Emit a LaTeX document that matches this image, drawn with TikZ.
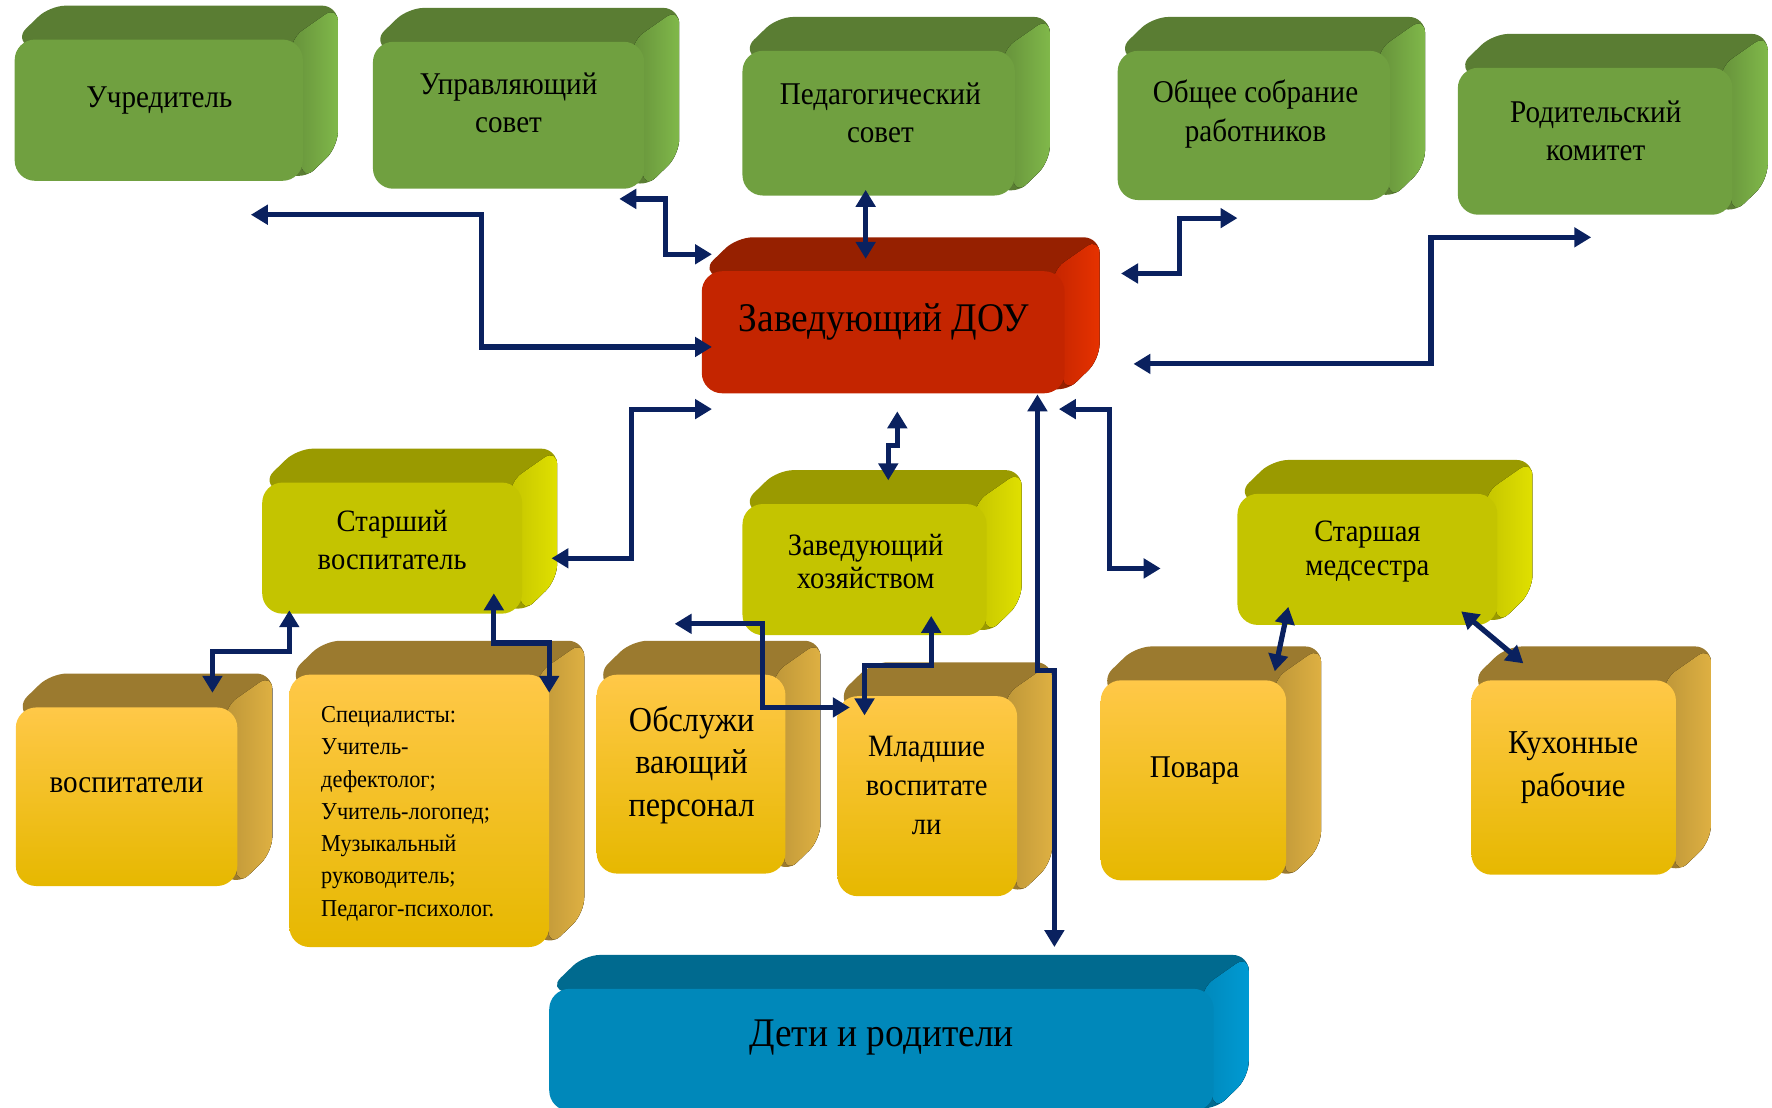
\documentclass[tikz,border=0pt]{standalone}
\usepackage{fontspec}
\setmainfont{Liberation Serif}[FakeStretch=0.92]
\usetikzlibrary{arrows.meta,calc}

\definecolor{cZelF}{HTML}{70A040}
\definecolor{cZelT}{HTML}{5A7D33}
\definecolor{cZelS}{HTML}{80B84A}
\definecolor{cKrF}{HTML}{C42500}
\definecolor{cKrT}{HTML}{962000}
\definecolor{cKrS}{HTML}{E63200}
\definecolor{cOlF}{HTML}{C4C400}
\definecolor{cOlT}{HTML}{9A9A00}
\definecolor{cOlS}{HTML}{E0E000}
\definecolor{cOrA}{HTML}{FFC848}
\definecolor{cOrM}{HTML}{FBC000}
\definecolor{cOrB}{HTML}{E6B800}
\definecolor{cOrT}{HTML}{9B7A2F}
\definecolor{cOrS}{HTML}{DEB042}
\definecolor{cSinF}{HTML}{0088BA}
\definecolor{cSinT}{HTML}{006A8F}
\definecolor{cSinS}{HTML}{009AD3}
\definecolor{strelka}{HTML}{0A215F}

\tikzset{
  zelF/.style={fill=cZelF}, zelT/.style={fill=cZelT}, zelS/.style={left color=cZelF!90!black, right color=cZelS},
  krF/.style={fill=cKrF}, krT/.style={fill=cKrT}, krS/.style={left color=cKrF, right color=cKrS},
  olF/.style={fill=cOlF}, olT/.style={fill=cOlT}, olS/.style={left color=cOlF, right color=cOlS},
  orF/.style={top color=cOrA, middle color=cOrM, bottom color=cOrB},
  orT/.style={fill=cOrT}, orS/.style={left color=cOrS!85!black, right color=cOrS},
  sinF/.style={fill=cSinF}, sinT/.style={fill=cSinT}, sinS/.style={left color=cSinF, right color=cSinS},
}

% #1 имя, #2 #3 левый верхний угол, #4 #5 правый нижний угол, #6 палитра
\newcommand{\blok}[6]{%
  \fill[#6T, rounded corners=14pt] (#2,#3) -- ++(31,-30) -- ({#4+31},{#3-30}) -- ({#4+31},{#5-30}) -- (#4,#5) -- cycle;
  \fill[#6S, rounded corners=14pt] ({#4-12},#3) -- ({#4+31},{#3-30}) -- ({#4+31},{#5-30}) -- (#4,#5) -- cycle;
  \node[#6F, rounded corners=18pt, inner sep=0pt, minimum width={#4-#2}, minimum height={#5-#3}] (#1) at ({(#2+#4)/2},{(#3+#5)/2}) {};
}

\begin{document}
\begin{tikzpicture}[x=1pt,y=-1pt,
  svyaz/.style={draw=strelka, line width=4.6pt, {Triangle[length=15pt,width=17pt]}-{Triangle[length=15pt,width=17pt]}},
  txt/.style={align=center, inner sep=0pt, yshift=-3pt, font=\fontsize{28}{34}\selectfont}]
\useasboundingbox (0,0) rectangle (1568,980);
\clip (0,0) rectangle (1568,980);

% блоки
\blok{uchr}{13}{35}{268}{160}{zel}
\blok{upr}{330}{37}{570}{167}{zel}
\blok{ped}{657}{45}{898}{173}{zel}
\blok{obsh}{989}{45}{1230}{177}{zel}
\blok{rod}{1290}{60}{1533}{190}{zel}
\blok{zav}{621}{240}{942}{348}{kr}
\blok{starv}{232}{427}{462}{543}{ol}
\blok{zavh}{657}{446}{873}{562}{ol}
\blok{med}{1095}{437}{1325}{553}{ol}
\blok{vosp}{14}{626}{210}{784}{or}
\blok{spec}{256}{597}{486}{838}{or}
\blok{obsl}{528}{597}{695}{773}{or}
\blok{mlad}{741}{616}{900}{793}{or}
\blok{pov}{974}{602}{1138}{779}{or}
\blok{kuh}{1302}{602}{1483}{774}{or}
\blok{deti}{486}{875}{1074}{983}{sin}

% надписи
\path (141,86) node[txt] (uchr-t) {Учредитель}
      (450,88) node[txt] (upr-t) {Управляющий\\совет}
      (779,97) node[txt] (ped-t) {Педагогический\\совет}
      (1111,98) node[txt] (obsh-t) {Общее собрание\\работников}
      (1412,113) node[txt] (rod-t) {Родительский\\комитет}
      (782,282) node[txt, font=\fontsize{36}{40}\selectfont] (zav-t) {Заведующий ДОУ}
      (347,475) node[txt, font=\fontsize{27.5}{34}\selectfont] (starv-t) {Старший\\воспитатель}
      (766,494) node[txt, font=\fontsize{27.5}{29}\selectfont] (zavh-t) {Заведующий\\хозяйством}
      (1210,485) node[txt, font=\fontsize{27.5}{30}\selectfont] (med-t) {Старшая\\медсестра}
      (112,692) node[txt] (vosp-t) {воспитатели}
      (284,717) node[txt, anchor=west, align=left, font=\fontsize{21.5}{28.5}\selectfont] (spec-t)
        {Специалисты:\\Учитель-\\дефектолог;\\Учитель-логопед;\\Музыкальный\\руководитель;\\Педагог-психолог.}
      (612,674) node[txt, font=\fontsize{31}{37.5}\selectfont] (obsl-t) {Обслужи\\вающий\\персонал}
      (820,692) node[txt, font=\fontsize{27.5}{34.5}\selectfont] (mlad-t) {Младшие\\воспитате\\ли}
      (1057,679) node[txt] (pov-t) {Повара}
      (1392,676) node[txt, font=\fontsize{29.5}{38}\selectfont] (kuh-t) {Кухонные\\рабочие}
      (780,915) node[txt, font=\fontsize{36}{40}\selectfont] (deti-t) {Дети и родители};

% концы стрелок
\coordinate (uchr-a) at (222,190);   \coordinate (zav-a1) at (630,307);
\coordinate (upr-a) at (548,176);    \coordinate (zav-a2) at (630,225);
\coordinate (ped-a) at (766,168);    \coordinate (zav-a3) at (766,229);
\coordinate (obsh-a) at (1095,193);  \coordinate (zav-a4) at (992,242);
\coordinate (rod-a) at (1408,210);   \coordinate (zav-a5) at (1003,322);
\coordinate (starv-a) at (488,494);  \coordinate (zav-a6) at (630,362);
\coordinate (zavh-a) at (786,425);   \coordinate (zav-a7) at (794,364);
\coordinate (deti-a) at (933,838);   \coordinate (zav-a8) at (918,349);
\coordinate (med-a) at (1027,503);   \coordinate (zav-a9) at (937,362);
\coordinate (vosp-a) at (188,613);   \coordinate (starv-a1) at (256,540);
\coordinate (spec-a) at (486,613);   \coordinate (starv-a2) at (437,525);
\coordinate (obsl-a) at (597,552);   \coordinate (mlad-a1) at (752,626);
\coordinate (mlad-a2) at (765,633);  \coordinate (zavh-a1) at (824,545);
\coordinate (pov-a) at (1128,594);   \coordinate (med-a1) at (1140,537);
\coordinate (kuh-a) at (1348,587);   \coordinate (med-a2) at (1293,541);

% стрелки
\draw[svyaz] (uchr-a) -| ($(uchr-a)!.5!(zav-a1)$) |- (zav-a1);
\draw[svyaz] (upr-a) -| ($(upr-a)!.5!(zav-a2)$) |- (zav-a2);
\draw[svyaz] (ped-a) -- (zav-a3);
\draw[svyaz] (zav-a4) -| ($(zav-a4)!.5!(obsh-a)$) |- (obsh-a);
\draw[svyaz] (zav-a5) -| ($(zav-a5)!.65!(rod-a)$) |- (rod-a);
\draw[svyaz] (starv-a) -| ($(starv-a)!.5!(zav-a6)$) |- (zav-a6);
\draw[svyaz] (zav-a7) |- ($(zav-a7)!.5!(zavh-a)$) -| (zavh-a);
\draw[svyaz] (zav-a8) |- ($(zav-a8)!.5!(deti-a)$) -| (deti-a);
\draw[svyaz] (zav-a9) -| ($(zav-a9)!.5!(med-a)$) |- (med-a);
\draw[svyaz] (starv-a1) |- ($(starv-a1)!.5!(vosp-a)$) -| (vosp-a);
\draw[svyaz] (starv-a2) |- ($(starv-a2)!.5!(spec-a)$) -| (spec-a);
\draw[svyaz] (obsl-a) -| ($(obsl-a)!.5!(mlad-a1)$) |- (mlad-a1);
\draw[svyaz] (zavh-a1) |- ($(zavh-a1)!.5!(mlad-a2)$) -| (mlad-a2);
\draw[svyaz] (med-a1) -- (pov-a);
\draw[svyaz] (med-a2) -- (kuh-a);
\end{tikzpicture}
\end{document}
